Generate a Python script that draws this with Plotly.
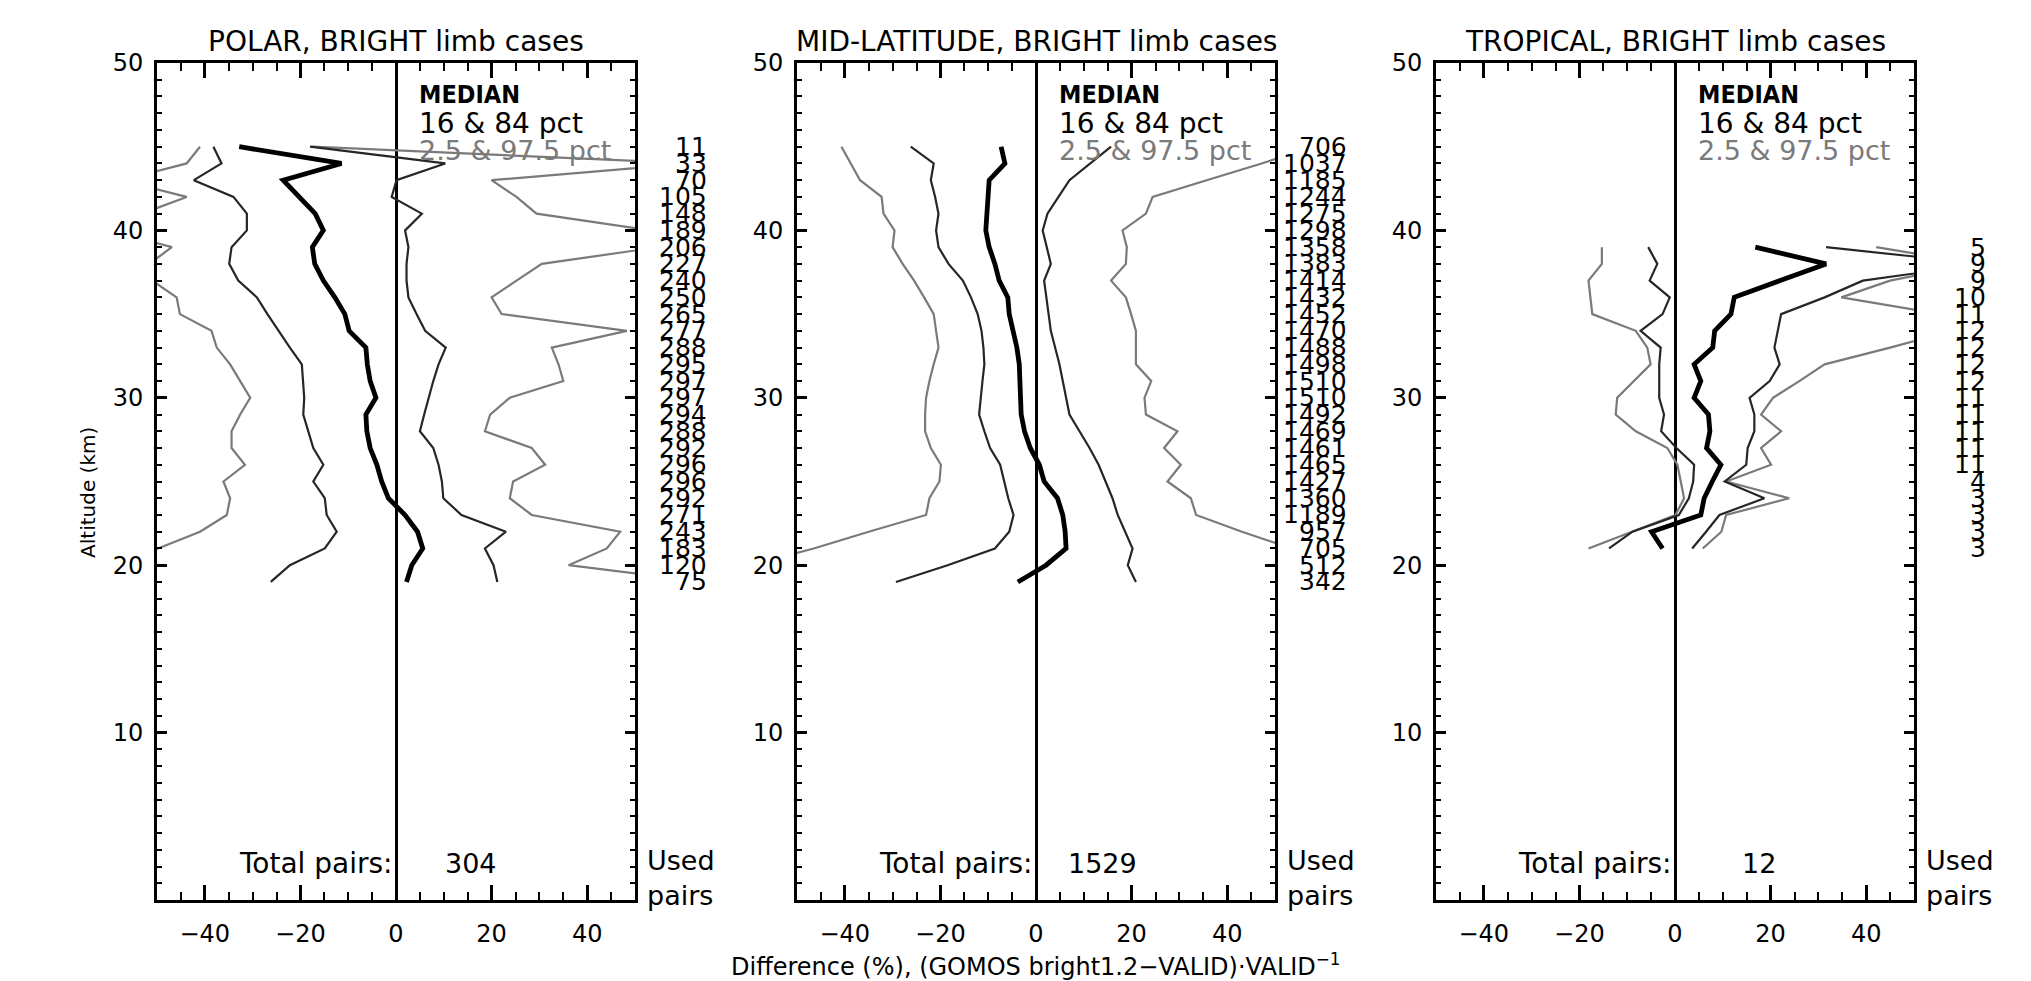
import plotly.graph_objects as go

# ---------------- data ----------------
ALT_POLAR = [45, 44, 43, 42, 41, 40, 39, 38, 37, 36, 35, 34, 33, 32, 31, 30,
             29, 28, 27, 26, 25, 24, 23, 22, 21, 20, 19]
POLAR_MEDIAN = [-32.8, -11.4, -23.6, -20.2, -16.9, -15.2, -17.5, -17.0, -15.2, -12.8, -10.7,
                -9.8, -6.3, -6.0, -5.4, -4.2, -6.3, -6.1, -5.4, -4.0, -3.0, -1.6, 1.9, 4.5,
                5.6, 3.3, 2.2]
POLAR_P16 = [-38.2, -36.5, -42.3, -34.0, -31.2, -31.2, -34.4, -34.9, -33.0, -29.1, -26.9,
             -24.6, -22.2, -19.7, -19.5, -19.2, -19.4, -18.3, -17.3, -15.2, -17.3, -14.9,
             -14.5, -12.4, -14.9, -22.2, -26.2]
POLAR_P84 = [-18.0, 10.3, 0.1, -0.9, 5.4, 1.9, 2.6, 2.2, 2.2, 2.6, 4.3, 6.1, 10.4, 8.9,
             7.8, 6.8, 5.9, 5.0, 7.8, 8.9, 9.6, 9.9, 13.7, 23.0, 18.6, 20.4, 21.2]
POLAR_P025 = [-41.0, -43.8, -57.5, -43.8, -53.2, -60.0, -46.9, -51.6, -51.0, -45.9, -45.2,
              -38.6, -37.5, -34.7, -32.6, -30.5, -32.6, -34.4, -34.4, -31.6, -36.1, -34.7,
              -35.4, -41.0, -49.8, -62.0, -70.0]
POLAR_P975 = [-17.5, 62.0, 20.0, 25.2, 29.4, 53.4, 54.9, 30.5, 25.2, 20.0, 22.1, 48.3,
              32.6, 34.0, 35.0, 23.8, 19.7, 18.6, 28.4, 31.2, 24.5, 23.8, 28.4, 46.9, 44.1,
              36.1, 64.5]
POLAR_USED = [11, 33, 70, 105, 148, 189, 206, 227, 240, 250, 265, 277, 288, 295, 297, 297,
              294, 288, 292, 296, 296, 292, 271, 243, 183, 120, 75]

ALT_MID = [45, 44, 43, 42, 41, 40, 39, 38, 37, 36, 35, 34, 33, 32, 31, 30,
           29, 28, 27, 26, 25, 24, 23, 22, 21, 20, 19]
MID_MEDIAN = [-7.3, -6.5, -9.8, -10.1, -10.3, -10.5, -9.8, -8.6, -7.7, -5.9, -5.6, -4.7,
              -4.0, -3.5, -3.3, -3.1, -3.1, -2.4, -1.2, 0.7, 1.7, 4.5, 5.6, 6.1, 6.3, 2.1, -3.8]
MID_P16 = [-26.2, -21.4, -22.0, -21.1, -20.4, -20.9, -20.4, -18.3, -15.3, -13.6, -12.2,
           -11.4, -11.0, -10.8, -11.2, -11.5, -11.9, -10.8, -9.6, -7.5, -6.6, -5.8, -4.7,
           -5.6, -8.6, -18.5, -29.3]
MID_P84 = [15.7, 11.3, 7.0, 4.7, 2.4, 1.4, 2.2, 3.1, 1.7, 2.2, 2.6, 3.1, 4.0, 4.9, 5.6,
           6.3, 7.0, 9.1, 11.2, 13.1, 14.6, 16.0, 17.1, 18.6, 20.2, 19.2, 20.9]
MID_P025 = [-40.7, -38.7, -36.8, -32.3, -31.9, -29.6, -30.0, -27.9, -25.5, -23.4, -21.4,
            -20.9, -20.4, -21.4, -22.3, -23.0, -23.2, -23.2, -22.0, -19.9, -20.2, -22.3,
            -23.0, -35.0, -46.5, -59.5, -72.0]
MID_P975 = [58.0, 47.2, 35.7, 24.4, 23.0, 18.1, 19.0, 18.8, 15.7, 18.8, 19.9, 20.9, 20.9,
            20.9, 24.1, 22.7, 23.0, 29.6, 26.8, 30.3, 27.5, 32.4, 33.5, 43.1, 53.5, 65.0, 75.0]
MID_USED = [706, 1037, 1185, 1244, 1275, 1298, 1358, 1383, 1414, 1432, 1452, 1470, 1488,
            1498, 1510, 1510, 1492, 1469, 1461, 1465, 1427, 1360, 1189, 957, 705, 512, 342]

ALT_TROP = [39, 38, 37, 36, 35, 34, 33, 32, 31, 30, 29, 28, 27, 26, 25, 24, 23, 22, 21]
TROP_MEDIAN = [16.8, 31.6, 22.0, 12.4, 11.7, 8.3, 7.9, 4.0, 5.4, 4.0, 7.0, 7.3, 6.6, 9.6,
               7.8, 6.1, 5.4, -4.9, -2.6]
TROP_P16 = [-5.6, -3.7, -5.3, -1.1, -2.6, -7.2, -3.0, -3.3, -3.3, -3.3, -2.3, -2.9, 0.3,
            4.0, 3.8, 2.9, 0.8, -8.9, -13.8]
TROP_P84 = [31.6, 64.5, 39.3, 31.3, 22.2, 21.5, 20.8, 21.9, 19.8, 15.6, 16.6, 16.6, 15.2,
            14.9, 10.4, 18.7, 9.3, 6.5, 3.6]
TROP_P025 = [-15.3, -15.3, -18.1, -17.7, -17.3, -8.2, -5.8, -5.1, -8.6, -12.1, -12.4, -8.2,
             -1.6, 0.5, 1.2, 1.9, 0.1, -9.1, -18.1]
TROP_P975 = [42.1, 63.0, 45.0, 34.8, 55.4, 58.0, 45.0, 31.3, 26.0, 20.5, 18.0, 22.2, 18.0,
             20.1, 10.7, 23.9, 10.7, 9.7, 5.8]
TROP_USED = [5, 9, 9, 10, 11, 12, 12, 12, 12, 11, 11, 11, 11, 11, 4, 3, 3, 3, 3]

TITLES = ["POLAR, BRIGHT limb cases", "MID-LATITUDE, BRIGHT limb cases",
          "TROPICAL, BRIGHT limb cases"]
TOTAL_PAIRS = [304, 1529, 12]
X_TICKS = [-40, -20, 0, 20, 40]
Y_TICKS = [10, 20, 30, 40, 50]

# ---------------- styling ----------------
W, H = 2031, 981
FONT = "DejaVu Sans"
FONT_COND = "DejaVu Sans Condensed, DejaVu Sans"
BLACK = "#000000"
DARK = "#262626"
GRAY = "#7a7a7a"
PANEL_PX = [(157, 635), (797, 1275), (1436, 1914)]
TOP, BOTTOM = 63, 900

panels = [
    (ALT_POLAR, POLAR_MEDIAN, POLAR_P16, POLAR_P84, POLAR_P025, POLAR_P975, POLAR_USED),
    (ALT_MID, MID_MEDIAN, MID_P16, MID_P84, MID_P025, MID_P975, MID_USED),
    (ALT_TROP, TROP_MEDIAN, TROP_P16, TROP_P84, TROP_P025, TROP_P975, TROP_USED),
]

fig = go.Figure()
annotations = []
layout_axes = {}

for i, (alt, med, p16, p84, p025, p975, used) in enumerate(panels):
    xn = "x" if i == 0 else f"x{i+1}"
    yn = "y" if i == 0 else f"y{i+1}"
    for series, color, width in [(p025, GRAY, 2.2), (p975, GRAY, 2.2),
                                 (p16, DARK, 2.2), (p84, DARK, 2.2),
                                 (med, BLACK, 4.8)]:
        fig.add_trace(go.Scatter(x=series, y=alt, mode="lines",
                                 line=dict(color=color, width=width),
                                 xaxis=xn, yaxis=yn, showlegend=False,
                                 hoverinfo="skip"))
    x0, x1 = PANEL_PX[i]
    layout_axes["xaxis" if i == 0 else f"xaxis{i+1}"] = dict(
        domain=[x0 / W, x1 / W], anchor=yn, range=[-50, 50],
        tickmode="array", tickvals=X_TICKS,
        ticktext=[str(v).replace("-", "\u2212") for v in X_TICKS],
        ticks="inside", ticklen=15, tickwidth=2.5, tickcolor=BLACK,
        minor=dict(tickmode="linear", tick0=0, dtick=5, ticks="inside",
                   ticklen=8, tickwidth=2, tickcolor=BLACK),
        showline=True, linecolor=BLACK, linewidth=3, mirror="ticks",
        showgrid=False, zeroline=True, zerolinecolor=BLACK, zerolinewidth=2.5,
        tickfont=dict(family=FONT, size=24, color=BLACK), ticklabelstandoff=10,
        fixedrange=True)
    layout_axes["yaxis" if i == 0 else f"yaxis{i+1}"] = dict(
        domain=[0, 1], anchor=xn, range=[0, 50],
        tickmode="array", tickvals=Y_TICKS,
        ticks="inside", ticklen=10, tickwidth=2.5, tickcolor=BLACK,
        minor=dict(tickmode="linear", tick0=0, dtick=1, ticks="inside",
                   ticklen=5, tickwidth=2, tickcolor=BLACK),
        showline=True, linecolor=BLACK, linewidth=3, mirror="ticks",
        showgrid=False, zeroline=False,
        tickfont=dict(family=FONT, size=24, color=BLACK), ticklabelstandoff=6,
        fixedrange=True)

    # panel title
    annotations.append(dict(text=TITLES[i], xref=f"{xn} domain", yref=f"{yn} domain",
                            x=0.5, y=1.0257, xanchor="center", yanchor="middle",
                            showarrow=False, font=dict(family=FONT, size=28, color=BLACK)))
    # legend texts
    for txt, yv, col, sz, fam in [("<b>MEDIAN</b>", 48.1, BLACK, 25, FONT_COND),
                                  ("16 &amp; 84 pct", 46.4, BLACK, 28, FONT),
                                  ("2.5 &amp; 97.5 pct", 44.8, GRAY, 27, FONT)]:
        annotations.append(dict(text=txt, xref=xn, yref=yn, x=4.3, y=yv,
                                xanchor="left", yanchor="middle", showarrow=False,
                                font=dict(family=fam, size=sz, color=col)))
    # total pairs
    annotations.append(dict(text="Total pairs:", xref=xn, yref=yn, x=-0.3, y=2.2,
                            xanchor="right", yanchor="middle", showarrow=False,
                            font=dict(family=FONT, size=28, color=BLACK)))
    annotations.append(dict(text=str(TOTAL_PAIRS[i]), xref=xn, yref=yn, x=21.5, y=2.2,
                            xanchor="right", yanchor="middle", showarrow=False,
                            font=dict(family=FONT, size=27, color=BLACK)))
    # used pairs label
    annotations.append(dict(text="Used<br>pairs", xref=f"{xn} domain", yref=yn,
                            x=1.021, y=1.34, xanchor="left", yanchor="middle",
                            align="left", showarrow=False,
                            font=dict(family=FONT, size=27, color=BLACK)))
    # used pairs per altitude
    for a, n in zip(alt, used):
        annotations.append(dict(text=str(n), xref=f"{xn} domain", yref=yn,
                                x=1.155, y=a, xanchor="right", yanchor="middle",
                                showarrow=False,
                                font=dict(family=FONT, size=25, color=BLACK)))

# axis titles
annotations.append(dict(text="Altitude (km)", xref="x domain", yref="y domain",
                        x=-0.1444, y=0.4875, textangle=-90, xanchor="center",
                        yanchor="middle", showarrow=False,
                        font=dict(family=FONT, size=20, color=BLACK)))
annotations.append(dict(text="Difference (%), (GOMOS bright1.2\u2212VALID)\u00b7VALID<sup>\u22121</sup>",
                        xref="x2 domain", yref="y2 domain", x=0.5, y=-0.0777,
                        xanchor="center", yanchor="middle", showarrow=False,
                        font=dict(family=FONT, size=24, color=BLACK)))

fig.update_layout(
    width=W, height=H,
    margin=dict(l=0, r=0, t=TOP, b=H - BOTTOM, pad=0),
    paper_bgcolor="white", plot_bgcolor="white",
    font=dict(family=FONT, color=BLACK),
    showlegend=False,
    annotations=annotations,
    **layout_axes,
)

fig.write_html("out.html")
